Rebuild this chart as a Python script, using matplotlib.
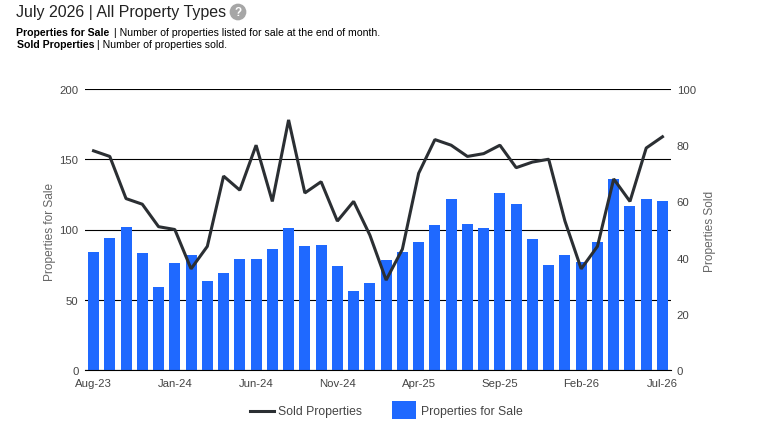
import matplotlib
matplotlib.use('Agg')
import matplotlib.pyplot as plt
from matplotlib.legend_handler import HandlerLine2D

matplotlib.rc('font', family=['Liberation Sans', 'DejaVu Sans'], size=8.2)

months = ['Aug-23', 'Sep-23', 'Oct-23', 'Nov-23', 'Dec-23', 'Jan-24', 'Feb-24', 'Mar-24', 'Apr-24',
          'May-24', 'Jun-24', 'Jul-24', 'Aug-24', 'Sep-24', 'Oct-24', 'Nov-24', 'Dec-24', 'Jan-25',
          'Feb-25', 'Mar-25', 'Apr-25', 'May-25', 'Jun-25', 'Jul-25', 'Aug-25', 'Sep-25', 'Oct-25',
          'Nov-25', 'Dec-25', 'Jan-26', 'Feb-26', 'Mar-26', 'Apr-26', 'May-26', 'Jun-26', 'Jul-26']
for_sale = [84, 94, 102, 83, 59, 76, 82, 63, 69, 79, 79, 86, 101, 88, 89, 74, 56, 62,
            78, 84, 91, 103, 122, 104, 101, 126, 118, 93, 75, 82, 77, 91, 136, 117, 122, 120]
sold = [78, 76, 61, 59, 51, 50, 36, 44, 69, 64, 80, 60, 89, 63, 67, 53, 60, 48,
        32, 43, 70, 82, 80, 76, 77, 80, 72, 74, 75, 53, 36, 44, 68, 60, 79, 83]
left_ticks = [0, 50, 100, 150, 200]
right_ticks = [0, 20, 40, 60, 80, 100]

W, H = 769, 439
text_grey = '#444444'
label_grey = '#666666'


# legend line sits a little high by default, drop it to the middle of the swatch
class LoweredLine(HandlerLine2D):
    def create_artists(self, legend, orig_handle, xdescent, ydescent, width, height, fontsize, trans):
        artists = super().create_artists(legend, orig_handle, xdescent, ydescent, width, height, fontsize, trans)
        for a in artists:
            a.set_ydata([y - 3 for y in a.get_ydata()])
        return artists


fig = plt.figure(figsize=(W / 100, H / 100), dpi=100, facecolor='w')
ax = fig.add_axes([85.4 / W, 1 - 371 / H, 585.2 / W, 281 / H])
ax2 = ax.twinx()

x = list(range(len(months)))
ax.yaxis.grid(True, color='black', linewidth=0.8)
ax.set_axisbelow(True)
bars = ax.bar(x, for_sale, width=0.68, color='#1f69ff', label='Properties for Sale', zorder=2)
line, = ax2.plot(x, sold, color='#2b2f33', linewidth=2.2, label='Sold Properties',
                 solid_joinstyle='bevel', clip_on=False)

ax.set_xlim(-0.5, len(months) - 0.5)
ax.set_ylim(0, 200)
ax2.set_ylim(0, 100)
ax.set_yticks(left_ticks)
ax2.set_yticks(right_ticks)
ax.set_xticks(x[::5])
ax.set_xticklabels(months[::5])

for a in (ax, ax2):
    a.tick_params(length=0, colors=text_grey, labelsize=8.2)
    for s in a.spines.values():
        s.set_visible(False)
ax.tick_params(axis='y', pad=5)
ax2.tick_params(axis='y', pad=4.5)
ax.tick_params(axis='x', pad=5.5)

ax.spines['bottom'].set_visible(True)
ax.spines['bottom'].set_linewidth(0.8)
ax.spines['bottom'].set_color('black')

fig.text(50 / W, 1 - 232 / H, 'Properties for Sale', rotation=90, color=label_grey,
         ha='center', va='center', fontsize=8.6)
fig.text(709.5 / W, 1 - 231 / H, 'Properties Sold', rotation=90, color=label_grey,
         ha='center', va='center', fontsize=8.6)

# header
fig.text(16 / W, 1 - 12.5 / H, 'July 2026 | All Property Types', fontsize=11.5, color='#222222',
         ha='left', va='center')
fig.text(238 / W, 1 - 13 / H, '?', fontsize=8.5, fontweight='bold', color='white', ha='center', va='center',
         bbox=dict(boxstyle='circle,pad=0.2', fc='#a6a6a6', ec='none'))

fig.text(16 / W, 1 - 32.5 / H, 'Properties for Sale', fontsize=7.55, fontweight='bold', color='black',
         ha='left', va='center')
fig.text(113.5 / W, 1 - 32.5 / H, '| Number of properties listed for sale at the end of month.', fontsize=7.55,
         color='black', ha='left', va='center')
fig.text(17 / W, 1 - 45 / H, 'Sold Properties', fontsize=7.55, fontweight='bold', color='black',
         ha='left', va='center')
fig.text(97 / W, 1 - 45 / H, '| Number of properties sold.', fontsize=7.55, color='black',
         ha='left', va='center')

fig.legend(handles=[line, bars], labels=['Sold Properties', 'Properties for Sale'], ncols=2,
           loc='center', bbox_to_anchor=(386 / W, 1 - 411 / H), frameon=False, fontsize=8.8,
           labelcolor=text_grey, handlelength=2.0, handleheight=2.0, handletextpad=0.35,
           columnspacing=2.4, handler_map={line: LoweredLine()})

fig.savefig('out.png', dpi=100)
